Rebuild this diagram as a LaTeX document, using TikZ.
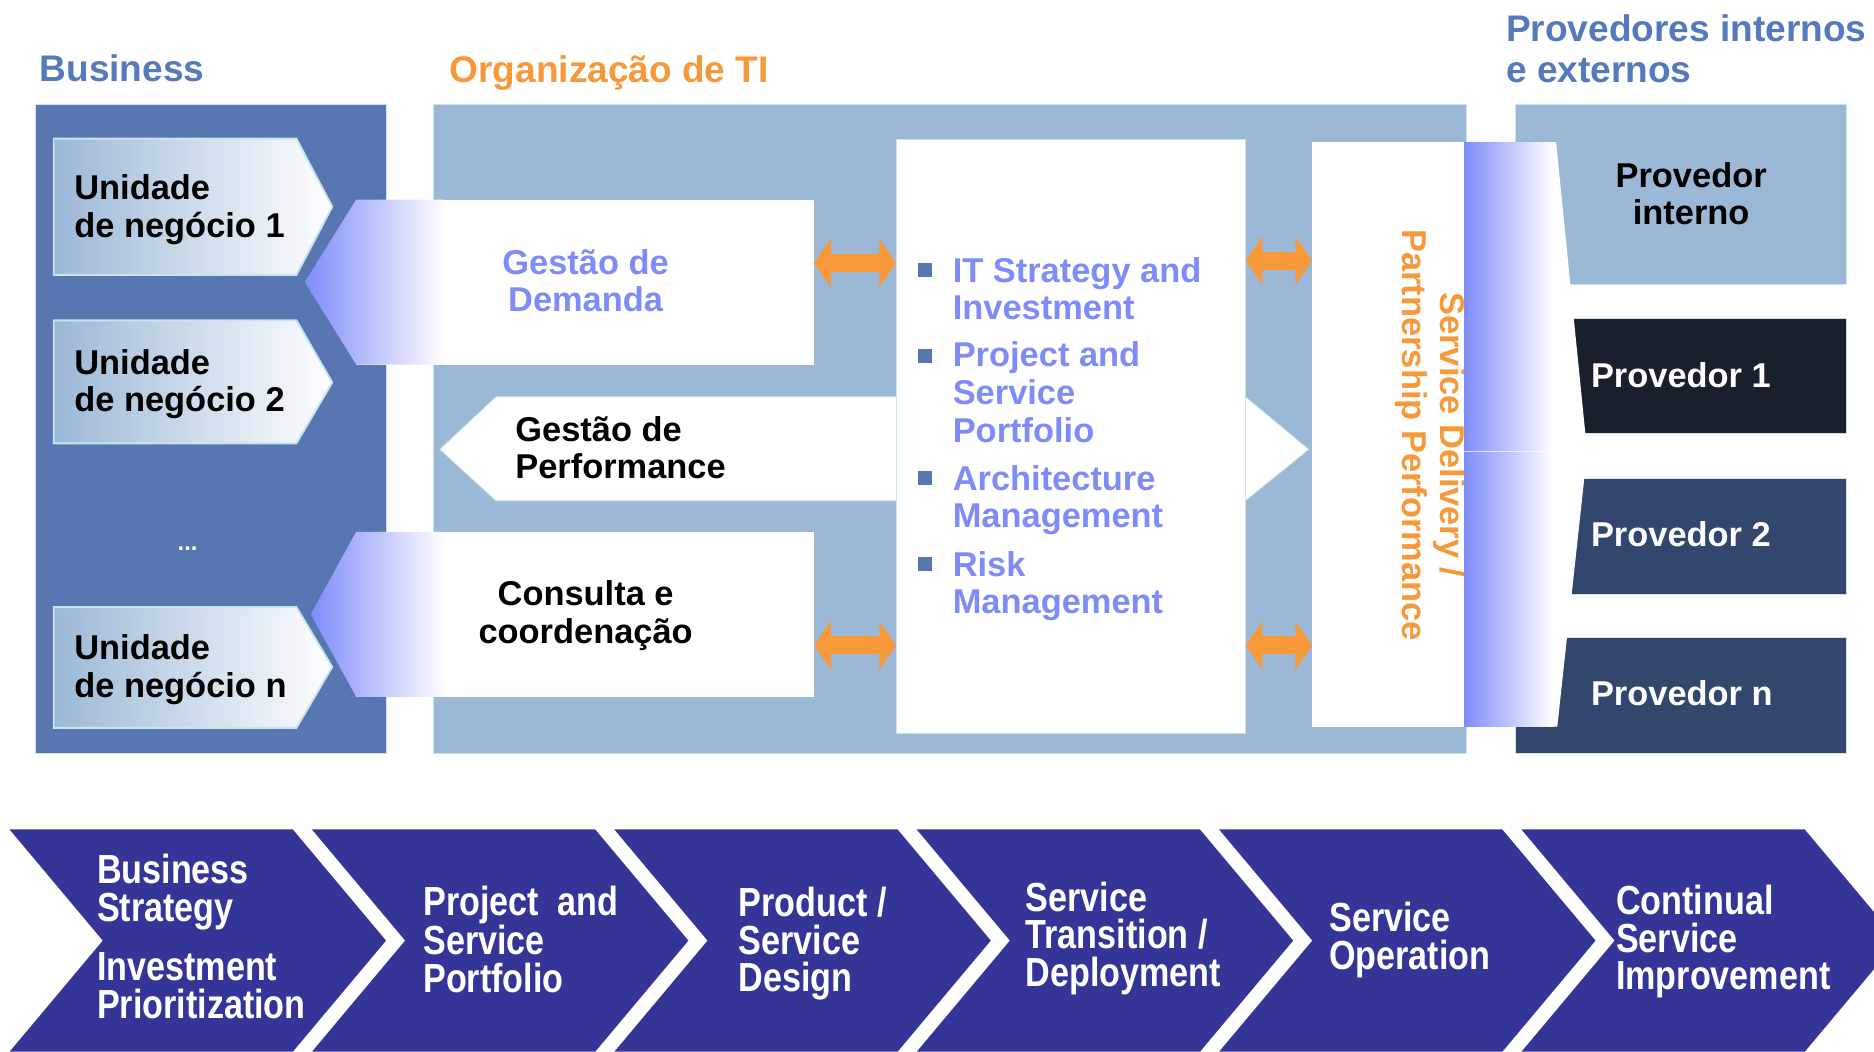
\documentclass[tikz,border=0pt]{standalone}
\usepackage{fontspec}
\setmainfont{Liberation Sans}
\newfontfamily\narrowfont[FakeStretch=0.84]{Liberation Sans}
\usetikzlibrary{arrows.meta}
\definecolor{titleblue}{RGB}{85,121,189}
\definecolor{bizblue}{RGB}{88,118,177}
\definecolor{orgblue}{RGB}{155,184,214}
\definecolor{itviolet}{RGB}{126,140,250}
\definecolor{orangeit}{RGB}{247,152,57}
\definecolor{chevblue}{RGB}{52,53,150}
\definecolor{provdark}{RGB}{26,31,46}
\definecolor{provmid}{RGB}{51,71,110}
\definecolor{edgecyan}{RGB}{200,228,236}
\begin{document}
\begin{tikzpicture}[x=1pt,y=-1pt,
  txt/.style={font=\fontsize{28.8}{31.5}\selectfont\bfseries, inner sep=0pt, align=left},
  titletxt/.style={font=\fontsize{31}{34.5}\selectfont\bfseries, inner sep=0pt, align=left},
  chevtxt/.style={font=\narrowfont\fontsize{34}{31.5}\selectfont\bfseries, text=white, inner sep=0pt, align=left, anchor=west},
  boxnode/.style={inner sep=0pt, draw=edgecyan, line width=0.6pt},
  whiteshape/.style={fill=white, draw=edgecyan, line width=0.6pt},
  unitbox/.style={left color=orgblue, right color=white, draw=edgecyan, line width=1.6pt},
  bulletsq/.style={fill=bizblue, inner sep=0pt, minimum size=12pt},
  orangearrow/.style={draw=orangeit, line width=15pt, {Triangle[width=40pt,length=14pt]}-{Triangle[width=40pt,length=14pt]}},
  chevron/.style={fill=chevblue}
]
\useasboundingbox (0,0) rectangle (1568,880);

% titles
\node[titletxt, text=titleblue, anchor=base west] (tbiz) at (33,68) {Business};
\node[titletxt, text=orangeit, anchor=base west] (torg) at (376,69) {Organização de TI};
\node[titletxt, text=titleblue, anchor=north west] (tprov) at (1260,12) {Provedores internos\\e externos};

% main boxes
\node[boxnode, fill=bizblue, minimum width=293pt, minimum height=543pt] (biz) at (176.5,358.5) {};
\node[boxnode, fill=orgblue, minimum width=864pt, minimum height=543pt] (org) at (795,358.5) {};

% providers
\node[boxnode, fill=orgblue, minimum width=277pt, minimum height=151pt] (pint) at (1406.5,162.5) {};
\node[boxnode, fill=provdark, minimum width=277pt, minimum height=97pt] (p1) at (1406.5,314.5) {};
\node[boxnode, fill=provmid, minimum width=277pt, minimum height=97pt] (p2) at (1406.5,448.5) {};
\node[boxnode, fill=provmid, minimum width=277pt, minimum height=97pt] (pn) at (1406.5,581.5) {};
\node[txt, align=center] (tpint) at (1415,162) {Provedor\\interno};
\node[txt, text=white, anchor=west] (tp1) at (1331,314) {Provedor 1};
\node[txt, text=white, anchor=west] (tp2) at (1331,447) {Provedor 2};
\node[txt, text=white, anchor=west] (tpn) at (1331,580) {Provedor n};

% business units
\path[unitbox] (45,116) -- (248,116) -- (278,173) -- (248,230) -- (45,230) -- cycle;
\path[unitbox] (45,268) -- (248,268) -- (278,320) -- (248,371) -- (45,371) -- cycle;
\path[unitbox] (45,508) -- (248,508) -- (278,558) -- (248,609) -- (45,609) -- cycle;
\node[txt, anchor=west] (u1) at (62,175.5) {Unidade\\de negócio 1};
\node[txt, anchor=west] (u2) at (62,321.5) {Unidade\\de negócio 2};
\node[txt, anchor=west] (un) at (62,560.5) {Unidade\\de negócio n};
\node[font=\fontsize{20}{20}\selectfont\bfseries, text=white, inner sep=0pt] (dots) at (157,459) {...};

% performance arrow (behind IT box)
\path[whiteshape] (368,376) -- (415,332) -- (1042,332) -- (1095,376) -- (1042,419) -- (415,419) -- cycle;
\node[txt, anchor=west] (perf) at (431,374.5) {Gestão de\\Performance};

% demand arrow
\node[fill=white, inner sep=0pt, minimum width=383pt, minimum height=138pt] (dem) at (489.5,236) {};
\shade[left color=itviolet, right color=white] (255,236) -- (298,167) -- (372,167) -- (372,305) -- (298,305) -- cycle;
\node[txt, align=center, text=itviolet] (tdem) at (490,235) {Gestão de\\Demanda};

% consulta arrow
\node[fill=white, inner sep=0pt, minimum width=383pt, minimum height=138pt] (cons) at (489.5,514) {};
\shade[left color=itviolet, right color=white] (260,514) -- (298,445) -- (372,445) -- (372,583) -- (298,583) -- cycle;
\node[txt, align=center] (tcons) at (490,515) {Consulta e\\coordenação};

% IT box
\node[boxnode, fill=white, minimum width=292pt, minimum height=497pt] (it) at (896,365.5) {};
\node[bulletsq] (b1) at (774,226) {};
\node[bulletsq] (b2) at (774,298) {};
\node[bulletsq] (b3) at (774,400) {};
\node[bulletsq] (b4) at (774,472) {};
\node[txt, text=itviolet, anchor=north west] (i1) at (797,215) {IT Strategy and\\Investment};
\node[txt, text=itviolet, anchor=north west] (i2) at (797,286) {Project and\\Service\\Portfolio};
\node[txt, text=itviolet, anchor=north west] (i3) at (797,389) {Architecture\\Management};
\node[txt, text=itviolet, anchor=north west] (i4) at (797,461) {Risk\\Management};

% service delivery box
\node[fill=white, inner sep=0pt, minimum width=202pt, minimum height=489pt] (sdp) at (1199,363.5) {};
\node[txt, align=center, text=orangeit, rotate=-90] (tsdp) at (1197,364) {Service Delivery /\\Partnership Performance};

% gradient band towards providers
\shade[left color=itviolet, right color=white] (1225,119) rectangle (1300,608);
\fill[white] (1299,119) -- (1302,119) -- (1328,378) -- (1303,608) -- (1299,608) -- cycle;
\draw[white, opacity=0.7, line width=1pt] (1225,378) -- (1328,378);

% orange double arrows
\coordinate (ya) at (0,220);
\coordinate (yb) at (0,540);
\coordinate (yc) at (0,218);
\draw[orangearrow] (dem.east |- ya) -- (it.west |- ya);
\draw[orangearrow] (cons.east |- yb) -- (it.west |- yb);
\draw[orangearrow] (it.east |- yc) -- (sdp.west |- yc);
\draw[orangearrow] (it.east |- yb) -- (sdp.west |- yb);

% bottom chevrons
\begin{scope}
\clip (0,0) rectangle (1568,880);
\foreach \i in {0,...,5} {
  \pgfmathsetmacro\xo{8+253*\i}
  \path[chevron] (\xo,694) -- ++(237,0) -- ++(78,93) -- ++(-78,93) -- ++(-237,0) -- ++(78,-93) -- cycle;
}
\end{scope}
\node[chevtxt] (c1) at (81,783.5) {Business\\Strategy\\[18pt]Investment\\Prioritization};
\node[chevtxt] (c2) at (354,786) {Project\ \ and\\Service\\Portfolio};
\node[chevtxt] (c3) at (618,789.5) {Product /\\Service\\Design};
\node[chevtxt] (c4) at (858,785) {Service\\Transition /\\Deployment};
\node[chevtxt] (c5) at (1112,786.5) {Service\\Operation};
\node[chevtxt] (c6) at (1352,788) {Continual\\Service\\Improvement};
\end{tikzpicture}
\end{document}
